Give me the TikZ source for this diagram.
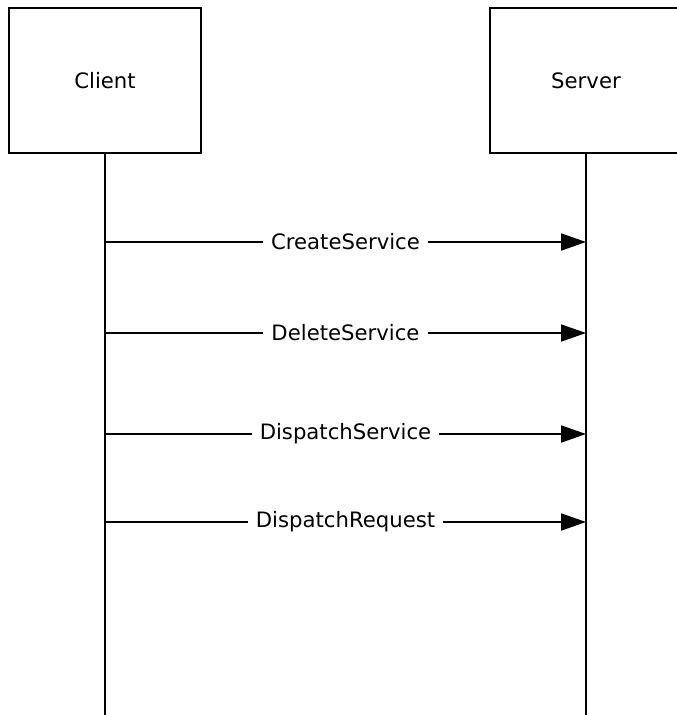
\documentclass[tikz,border=0pt]{standalone}
\usepackage{fontspec}
\setmainfont{DejaVu Sans}
\usetikzlibrary{arrows.meta}
\begin{document}
\begin{tikzpicture}[x=1pt,y=-1pt,
  actor/.style={draw, line width=2pt, minimum width=192pt, minimum height=145pt, inner sep=0pt, font=\fontsize{21.2}{25}\selectfont},
  life/.style={line width=1.8pt},
  msg/.style={line width=1.8pt, -{Triangle[length=25pt,width=17pt]}},
  lbl/.style={fill=white, inner xsep=8pt, inner ysep=5pt, font=\fontsize{21.2}{25}\selectfont}]
\useasboundingbox (0,0) rectangle (677,715);
\node[actor] (client) at (105,80.5) {Client};
\node[actor] (server) at (586,80.5) {Server};
\coordinate (cend) at (105,715);
\coordinate (send) at (586,715);
\draw[life] (client.south) -- (cend);
\draw[life] (server.south) -- (send);
\foreach \y/\t [count=\i] in {242/CreateService, 333/DeleteService, 434/DispatchService, 522/DispatchRequest} {
  \coordinate (a\i) at (105,\y);
  \coordinate (b\i) at (586,\y);
  \draw[msg] (a\i) -- node[lbl] {\t} (b\i);
}
\end{tikzpicture}
\end{document}
